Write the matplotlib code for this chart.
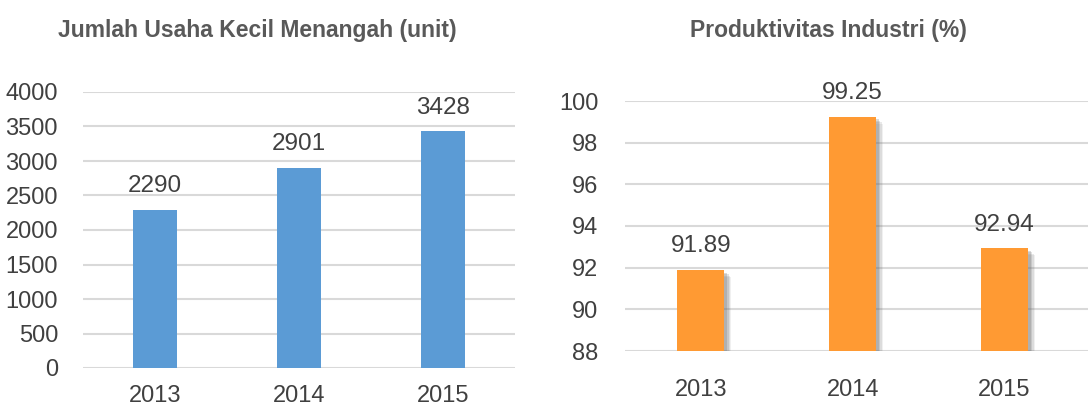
import matplotlib.pyplot as plt
import matplotlib.patheffects as pe

years = ["2013", "2014", "2015"]
ukm_units = [2290, 2901, 3428]
productivity = [91.89, 99.25, 92.94]

BLUE = "#5B9BD5"
ORANGE = "#FF9A33"
GRID = "#D9D9D9"
TEXT = "#404040"

plt.rcParams["font.family"] = ["Liberation Sans Narrow", "Liberation Sans", "DejaVu Sans"]

W, H = 1088, 409
fig = plt.figure(figsize=(W / 100, H / 100), dpi=100)


def box(x0, x1, y_top, y_bot):
    return [x0 / W, 1 - y_bot / H, (x1 - x0) / W, (y_bot - y_top) / H]


def style(ax, lo, hi, step, xpad, ypad):
    ax.set_ylim(lo, hi)
    ax.set_yticks(range(lo, hi + 1, step))
    ax.set_xticks(range(len(years)))
    ax.set_xticklabels(years)
    for s in ax.spines.values():
        s.set_visible(False)
    ax.tick_params(length=0, labelsize=17, labelcolor=TEXT)
    ax.tick_params(axis="x", pad=xpad)
    ax.tick_params(axis="y", pad=ypad)
    ax.yaxis.grid(True, color=GRID, linewidth=1.5)
    ax.set_axisbelow(True)


def label_bars(ax, bars, vals):
    for b, v in zip(bars, vals):
        ax.annotate(f"{v:g}", (b.get_x() + b.get_width() / 2, v),
                    xytext=(0, 9), textcoords="offset points",
                    ha="center", va="bottom", fontsize=17.5,
                    color=TEXT, annotation_clip=False)


# left: number of small/medium businesses
ax1 = fig.add_axes(box(83, 515, 92, 368))
style(ax1, 0, 4000, 500, xpad=12, ypad=18)
ax1.set_xlim(-0.5, 2.5)
b1 = ax1.bar(range(len(years)), ukm_units, width=0.31, color=BLUE)
label_bars(ax1, b1, ukm_units)
fig.text(257 / W, 1 - 30 / H, "Jumlah Usaha Kecil Menangah (unit)",
         ha="center", va="center", fontsize=16.5, fontweight="bold",
         color="#595959")

# right: industrial productivity, bars with a soft drop shadow
ax2 = fig.add_axes(box(625, 1088, 101, 351))
style(ax2, 88, 100, 2, xpad=20, ypad=19)
ax2.set_xlim(-0.5, 2.55)
shadow = [pe.SimplePatchShadow(offset=(d, -d), shadow_rgbFace="#6F6F6F", alpha=a)
          for d, a in [(5, 0.10), (4, 0.15), (3, 0.2), (2, 0.25)]]
b2 = ax2.bar(range(len(years)), productivity, bottom=0, width=0.31,
             color=ORANGE, path_effects=shadow + [pe.Normal()])
label_bars(ax2, b2, productivity)
fig.text(828 / W, 1 - 30 / H, "Produktivitas Industri (%)",
         ha="center", va="center", fontsize=16.5, fontweight="bold",
         color="#595959")

fig.savefig("out.png", dpi=100)
